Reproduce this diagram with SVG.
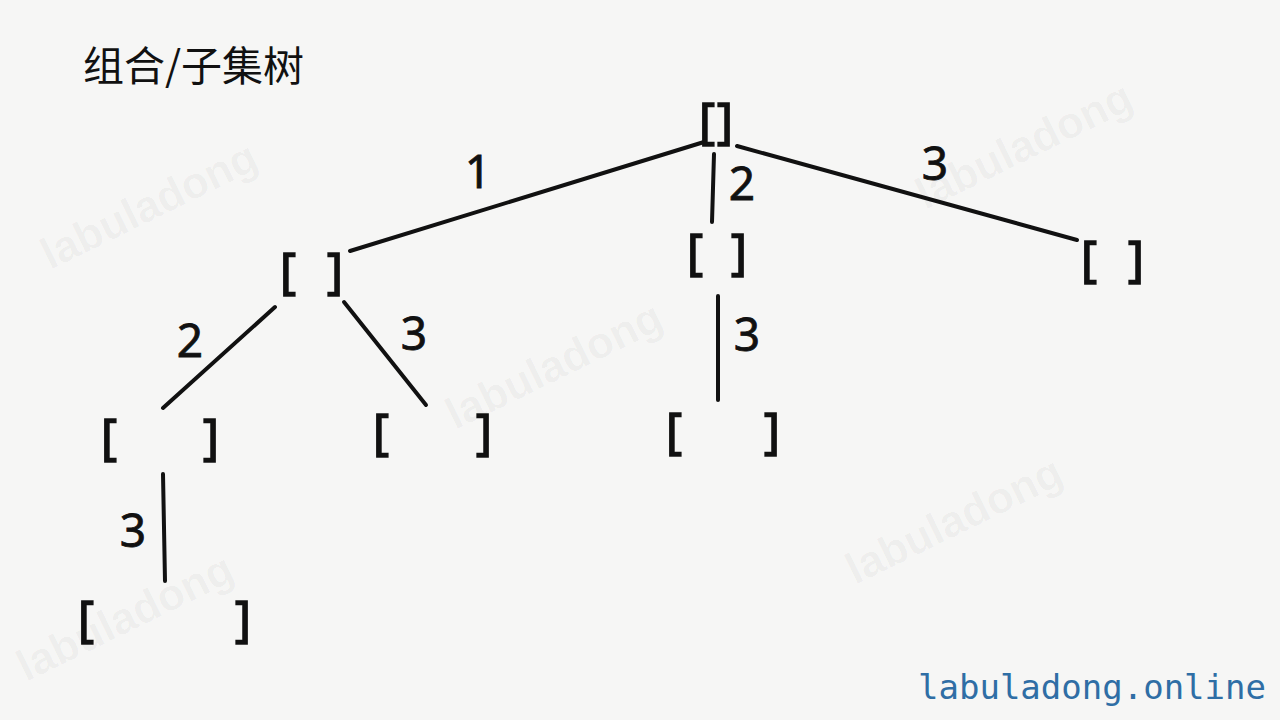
<svg xmlns="http://www.w3.org/2000/svg" width="1280" height="720" viewBox="0 0 1280 720">
<style>
.br{font-family:"Noto Sans","DejaVu Sans",sans-serif;font-size:50px;fill:#111;stroke:#111;stroke-width:1.3;text-anchor:middle}
.lb{font-family:"Noto Sans","DejaVu Sans",sans-serif;font-size:46px;fill:#111;stroke:#111;stroke-width:0.8;text-anchor:middle}
.wm{font-family:"Liberation Sans",Arial,sans-serif;font-weight:bold;font-size:44px;fill:#000;fill-opacity:0.035}
.e{stroke:#111;stroke-width:4;stroke-linecap:round;fill:none}
</style>
<rect width="1280" height="720" fill="#f6f6f5"/>
<g id="watermarks">
<text class="wm" transform="translate(50,270) rotate(-26)">labuladong</text>
<text class="wm" transform="translate(455,430) rotate(-26)">labuladong</text>
<text class="wm" transform="translate(925,210) rotate(-26)">labuladong</text>
<text class="wm" transform="translate(855,585) rotate(-26)">labuladong</text>
<text class="wm" transform="translate(26,682) rotate(-26)">labuladong</text>
</g>
<text id="title" x="83" y="81" font-family="'Noto Sans CJK SC',sans-serif" font-size="41" fill="#111">组合/子集树</text>
<g id="connectors">
<line class="e" x1="704" y1="142" x2="350" y2="251"/>
<line class="e" x1="737" y1="146" x2="1077" y2="240"/>
<line class="e" x1="714" y1="154" x2="712" y2="222"/>
<line class="e" x1="275" y1="307" x2="163" y2="408"/>
<line class="e" x1="344" y1="302" x2="426" y2="405"/>
<line class="e" x1="718" y1="296" x2="718" y2="400"/>
<line class="e" x1="163" y1="474" x2="165" y2="581"/>
<text class="lb" x="478" y="188">1</text>
<text class="lb" x="742" y="200">2</text>
<text class="lb" x="935" y="180">3</text>
<text class="lb" x="190" y="357">2</text>
<text class="lb" x="414" y="350">3</text>
<text class="lb" x="747" y="351">3</text>
<text class="lb" x="133" y="547">3</text>
</g>
<g id="n-root"><text class="br" y="138"><tspan x="707">[</tspan><tspan x="725">]</tspan></text></g>
<g id="n-1"><text class="br" y="288"><tspan x="288">[</tspan><tspan x="335">]</tspan></text></g>
<g id="n-2"><text class="br" y="269"><tspan x="695">[</tspan><tspan x="739">]</tspan></text></g>
<g id="n-3"><text class="br" y="276"><tspan x="1089">[</tspan><tspan x="1136">]</tspan></text></g>
<g id="n-12"><text class="br" y="454"><tspan x="109">[</tspan><tspan x="211">]</tspan></text></g>
<g id="n-13"><text class="br" y="449"><tspan x="381">[</tspan><tspan x="484">]</tspan></text></g>
<g id="n-23"><text class="br" y="448"><tspan x="674">[</tspan><tspan x="772">]</tspan></text></g>
<g id="n-123"><text class="br" y="636"><tspan x="86">[</tspan><tspan x="243">]</tspan></text></g>
<text id="footer" x="918" y="699" font-family="'DejaVu Sans Mono',monospace" font-size="34" fill="#2f6ea5">labuladong.online</text>
</svg>
